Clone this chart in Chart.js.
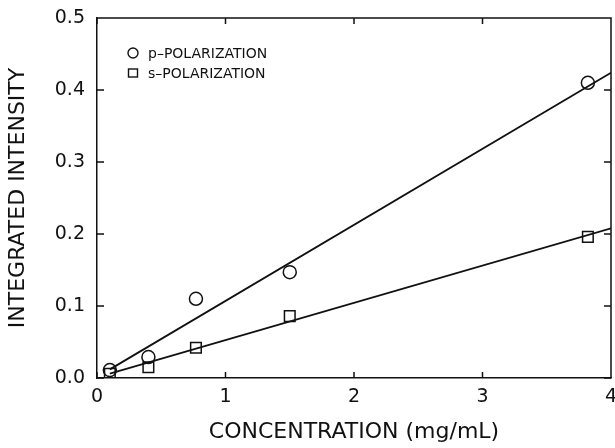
<!DOCTYPE html>
<html>
<head>
<meta charset="utf-8">
<script src="https://cdn.jsdelivr.net/npm/chart.js@4"></script>
<style>
  html, body { margin: 0; padding: 0; background: #fff; }
  #wrap { width: 615px; height: 448px; }
</style>
</head>
<body>
<div id="wrap"><canvas id="concChart" width="615" height="448"></canvas></div>
<script>
// concentration (mg/mL) of each sample
var concentration = [0.1, 0.4, 0.77, 1.5, 3.82]
// integrated intensity, measured
var pPolarization = [0.011, 0.029, 0.11, 0.147, 0.41]
var sPolarization = [0.006, 0.015, 0.042, 0.086, 0.196]
// fitted straight lines (end points)
var fitX = [0.1, 4]
var pFit = [0.012, 0.424]
var sFit = [0.006, 0.208]
var xTicks = [0, 1, 2, 3, 4]
var yTicks = [0.0, 0.1, 0.2, 0.3, 0.4, 0.5]

var legendLabels = ['p\u2013POLARIZATION', 's\u2013POLARIZATION']
var fontFamily = '"DejaVu Sans", "Liberation Sans", sans-serif'

function toPoints(xs, ys) {
    return xs.map(function (x, i) { return { x: x, y: ys[i] } })
}

// inward ticks on all four sides + closing box
var frame = {
    id: 'frame',
    afterDatasetsDraw: function (chart) {
        var c = chart.ctx, a = chart.chartArea
        var xs = chart.scales.x, ys = chart.scales.y
        c.save()
        c.strokeStyle = '#111'
        c.lineWidth = 1.5
        c.beginPath()
        c.moveTo(a.left, a.top); c.lineTo(a.right, a.top); c.lineTo(a.right, a.bottom)
        xTicks.forEach(function (v) {
            var px = xs.getPixelForValue(v)
            c.moveTo(px, a.bottom); c.lineTo(px, a.bottom - 6)
            c.moveTo(px, a.top); c.lineTo(px, a.top + 6)
        })
        yTicks.forEach(function (v) {
            var py = ys.getPixelForValue(v)
            c.moveTo(a.left, py); c.lineTo(a.left + 7, py)
            c.moveTo(a.right, py); c.lineTo(a.right - 7, py)
        })
        c.stroke()

        // legend inside plot
        c.lineWidth = 1.4
        c.fillStyle = '#111'
        c.font = '14px ' + fontFamily
        c.textBaseline = 'middle'
        var lx = a.left + 36, ly = a.top + 35
        c.beginPath(); c.arc(lx, ly, 5, 0, Math.PI * 2); c.stroke()
        c.fillText(legendLabels[0], lx + 15, ly + 1)
        c.strokeRect(lx - 4.5, ly + 20 - 4, 9, 8)
        c.fillText(legendLabels[1], lx + 15, ly + 21)
        c.restore()
    }
}

var ctx = document.getElementById('concChart').getContext('2d')
var concChart = new Chart(ctx, {
    type: 'scatter',
    data: {
        datasets: [
            {
                label: 'p-fit',
                data: toPoints(fitX, pFit),
                showLine: true,
                borderColor: '#111',
                borderWidth: 1.8,
                pointRadius: 0
            },
            {
                label: 's-fit',
                data: toPoints(fitX, sFit),
                showLine: true,
                borderColor: '#111',
                borderWidth: 1.8,
                pointRadius: 0
            },
            {
                label: 'p-POLARIZATION',
                data: toPoints(concentration, pPolarization),
                pointStyle: 'circle',
                pointRadius: 6.5,
                borderColor: '#111',
                borderWidth: 1.5,
                backgroundColor: 'rgba(0,0,0,0)'
            },
            {
                label: 's-POLARIZATION',
                data: toPoints(concentration, sPolarization),
                pointStyle: 'rect',
                pointRadius: 7.5,
                borderColor: '#111',
                borderWidth: 1.5,
                backgroundColor: 'rgba(0,0,0,0)'
            }
        ]
    },
    options: {
        responsive: false,
        animation: false,
        layout: { autoPadding: false, padding: { top: 18, right: 4, left: 0, bottom: 0 } },
        plugins: {
            legend: { display: false },
            tooltip: { enabled: false }
        },
        scales: {
            x: {
                type: 'linear',
                min: 0,
                max: 4,
                afterFit: function (s) { s.height = 70; s.paddingRight = 0; s.paddingLeft = 0 },
                afterBuildTicks: function (s) { s.ticks = xTicks.map(function (v) { return { value: v } }) },
                grid: { display: false, drawTicks: false },
                border: { display: true, color: '#111', width: 1.5 },
                ticks: {
                    color: '#111',
                    padding: 8,
                    font: { family: fontFamily, size: 19 },
                    callback: function (v) { return String(v) }
                },
                title: {
                    display: true,
                    text: 'CONCENTRATION (mg/mL)',
                    color: '#111',
                    font: { family: fontFamily, size: 22 },
                    padding: { top: 4, bottom: 3 }
                }
            },
            y: {
                min: 0,
                max: 0.5,
                afterFit: function (s) { s.width = 97; s.paddingTop = 0; s.paddingBottom = 0 },
                afterBuildTicks: function (s) { s.ticks = yTicks.map(function (v) { return { value: v } }) },
                grid: { display: false, drawTicks: false },
                border: { display: true, color: '#111', width: 1.5 },
                ticks: {
                    color: '#111',
                    padding: 12,
                    font: { family: fontFamily, size: 19 },
                    callback: function (v) { return v.toFixed(1) }
                },
                title: {
                    display: true,
                    text: 'INTEGRATED INTENSITY',
                    color: '#111',
                    font: { family: fontFamily, size: 22 },
                    padding: { top: 5, bottom: 4 }
                }
            }
        }
    },
    plugins: [frame]
})
</script>
</body>
</html>
